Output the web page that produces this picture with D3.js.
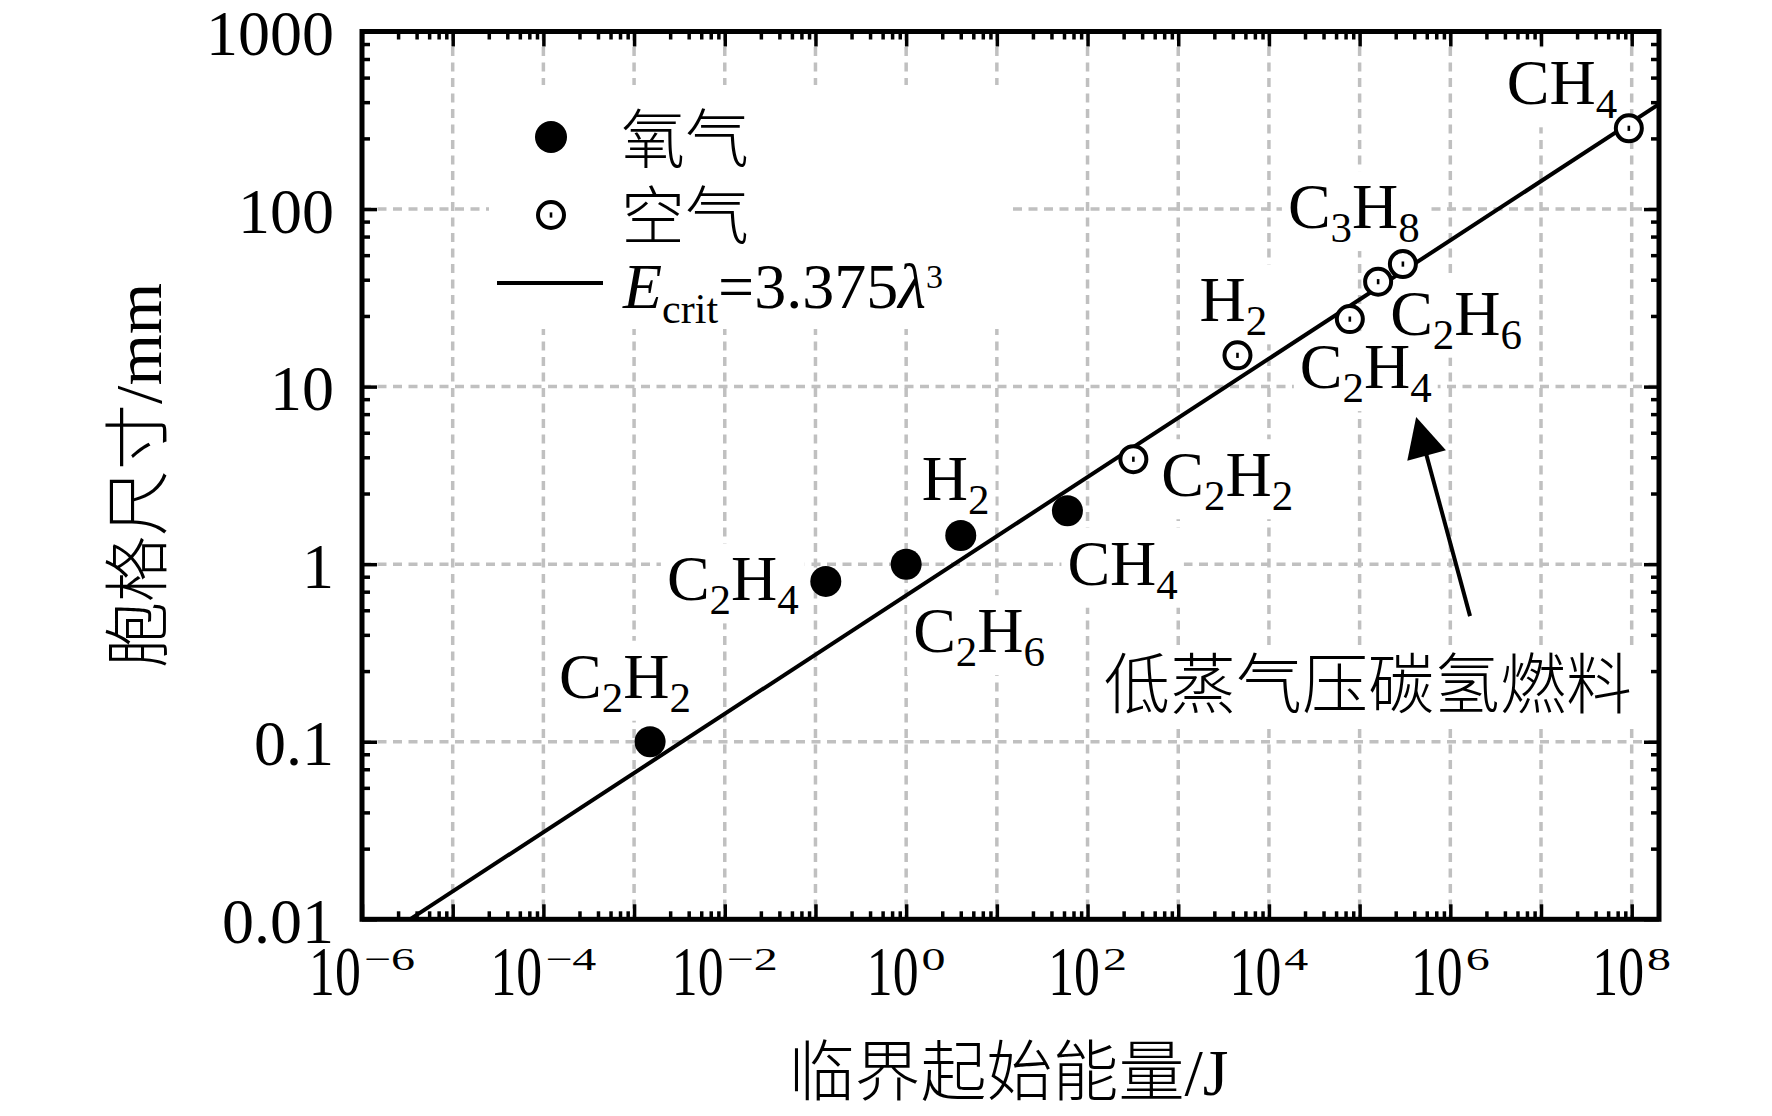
<!DOCTYPE html>
<html>
<head>
<meta charset="utf-8">
<script src="https://cdn.jsdelivr.net/npm/d3@7"></script>
<style>
html,body{margin:0;padding:0;background:#fff;}
svg{display:block;}
</style>
</head>
<body>
<svg id="chart" width="1772" height="1116"></svg>
<script>
// ---------------- DATA ----------------
const oxygenFuels  = ["C2H2", "C2H4", "C2H6", "H2", "CH4"];
const oxygenEnergy = [1.5e-3, 0.13, 1.0, 4.0, 60];          // J
const oxygenCell   = [0.1, 0.8, 1.0, 1.45, 2.0];            // mm

const airFuels  = ["C2H2", "H2", "C2H4", "C2H6", "C3H8", "CH4"];
const airEnergy = [320, 4500, 7.8e4, 1.6e5, 3.0e5, 9.3e7];  // J
const airCell   = [3.9, 15, 24, 39, 49, 285];               // mm

const fitCoeff = 3.375;           // E_crit = 3.375 * lambda^3
const fitLambdaMin = 0.01;

const xDomain = [1e-6, 2e8];
const yDomain = [0.01, 1000];
const xTickExponents = [-6, -4, -2, 0, 2, 4, 6, 8];
const xMajorExponents = [-6,-5,-4,-3,-2,-1,0,1,2,3,4,5,6,7,8];
const yTickValues = [0.01, 0.1, 1, 10, 100, 1000];
const yTickLabels = ["0.01", "0.1", "1", "10", "100", "1000"];
const minorMultipliers = [2.5, 4, 5.5, 7, 8.5];

const legendLabels = ["氧气", "空气"];
const fitLabel = {E: "E", sub: "crit", eq: "=3.375", lam: "λ", sup: "3"};
const annotationText = "低蒸气压碳氢燃料";
const arrowFrom = [1.65e6, 0.51];
const arrowTo   = [4.2e5, 6.75];
const xTitle = "临界起始能量/J";
const yTitle = "胞格尺寸/mm";

// ---------------- LAYOUT ----------------
const L = 362, R = 1659, T = 31.5, B = 919.3;
const SERIF = "'Liberation Serif','Times New Roman','Noto Sans CJK SC',serif";
const FS = 64, FS_SUB = 43, SUB_SHIFT = 14;
// label offsets (px) relative to their point: [dx, dy, anchor]
const oxygenLabelPos = [[-91,-44,"start"],[-27,19,"end"],[7,88,"start"],[-39,-36,"start"],[0,74,"start"]];
const airLabelPos    = [[28,37,"start"],[-38,-34,"start"],[-50,69,"start"],[12,53,"start"],[-115,-36,"start"],[-122,-24,"start"]];

const svg = d3.select("#chart");
svg.append("rect").attr("width",1772).attr("height",1116).attr("fill","#fff");

const x = d3.scaleLog().domain(xDomain).range([L, R]);
const y = d3.scaleLog().domain(yDomain).range([B, T]);

const gridLayer = svg.append("g");
const bgLayer = svg.append("g");
const lineLayer = svg.append("g");
const axisLayer = svg.append("g");
const pointLayer = svg.append("g");
const textLayer = svg.append("g");

svg.append("defs").append("clipPath").attr("id","plotClip")
  .append("rect").attr("x",L).attr("y",T).attr("width",R-L).attr("height",B-T);

// ---------------- GRID ----------------
const gridX = xMajorExponents.filter(e => e > -6).map(e => Math.pow(10, e));
const gridY = yTickValues.filter(v => v > 0.01 && v < 1000);
gridLayer.selectAll(".gx").data(gridX).join("line")
  .attr("x1", d => x(d)).attr("x2", d => x(d)).attr("y1", T).attr("y2", B)
  .attr("stroke","#c0c0c0").attr("stroke-width",3.5).attr("stroke-dasharray","9,6.5");
gridLayer.selectAll(".gy").data(gridY).join("line")
  .attr("y1", d => y(d)).attr("y2", d => y(d)).attr("x1", L).attr("x2", R)
  .attr("stroke","#c0c0c0").attr("stroke-width",3.5).attr("stroke-dasharray","9,6.5");

// legend background
bgLayer.append("rect").attr("x",489).attr("y",85).attr("width",518).attr("height",244).attr("fill","#fff");

// ---------------- FIT LINE ----------------
const fitLambda = [fitLambdaMin, Math.cbrt(xDomain[1] / fitCoeff)];
const fitPts = fitLambda.map(l => [fitCoeff * Math.pow(l, 3), l]);
lineLayer.append("path").datum(fitPts)
  .attr("clip-path","url(#plotClip)")
  .attr("d", d3.line().x(d => x(d[0])).y(d => y(d[1])))
  .attr("fill","none").attr("stroke","#000").attr("stroke-width",4);

// ---------------- AXES ----------------
const xMinor = [];
xMajorExponents.forEach(e => minorMultipliers.forEach(m => { const v = m*Math.pow(10,e); if (v < xDomain[1]) xMinor.push(v); }));
const yMinor = [];
[-2,-1,0,1,2].forEach(e => minorMultipliers.forEach(m => yMinor.push(m*Math.pow(10,e))));
const xMajor = xMajorExponents.map(e => Math.pow(10, e));

function styleAxis(g){
  g.select(".domain").remove();
  g.selectAll(".tick line").attr("stroke","#000").attr("stroke-width",3.5);
}
const MAJ = 15, MIN = 8;
axisLayer.append("g").attr("transform",`translate(0,${B})`)
  .call(d3.axisBottom(x).tickValues(xMajor).tickSize(-MAJ).tickSizeOuter(0).tickFormat(""))
  .call(styleAxis);
axisLayer.append("g").attr("transform",`translate(0,${B})`)
  .call(d3.axisBottom(x).tickValues(xMinor).tickSize(-MIN).tickSizeOuter(0).tickFormat(""))
  .call(styleAxis);
axisLayer.append("g").attr("transform",`translate(0,${T})`)
  .call(d3.axisTop(x).tickValues(xMajor).tickSize(-MAJ).tickSizeOuter(0).tickFormat(""))
  .call(styleAxis);
axisLayer.append("g").attr("transform",`translate(0,${T})`)
  .call(d3.axisTop(x).tickValues(xMinor).tickSize(-MIN).tickSizeOuter(0).tickFormat(""))
  .call(styleAxis);
const yAxisG = axisLayer.append("g").attr("transform",`translate(${L},0)`)
  .call(d3.axisLeft(y).tickValues(yTickValues).tickSize(-MAJ).tickSizeOuter(0).tickPadding(28)
        .tickFormat((d,i) => yTickLabels[i]))
  .call(styleAxis);
yAxisG.selectAll(".tick text").attr("font-family",SERIF).attr("font-size",FS).attr("fill","#000").attr("dy","0.36em");
axisLayer.append("g").attr("transform",`translate(${L},0)`)
  .call(d3.axisLeft(y).tickValues(yMinor).tickSize(-MIN).tickSizeOuter(0).tickFormat(""))
  .call(styleAxis);
axisLayer.append("g").attr("transform",`translate(${R},0)`)
  .call(d3.axisRight(y).tickValues(yTickValues).tickSize(-MAJ).tickSizeOuter(0).tickFormat(""))
  .call(styleAxis);
axisLayer.append("g").attr("transform",`translate(${R},0)`)
  .call(d3.axisRight(y).tickValues(yMinor).tickSize(-MIN).tickSizeOuter(0).tickFormat(""))
  .call(styleAxis);
axisLayer.append("rect").attr("x",L).attr("y",T).attr("width",R-L).attr("height",B-T)
  .attr("fill","none").attr("stroke","#000").attr("stroke-width",5);

// x tick labels 10^n  (base condensed, exponent widened, as in the reference)
const MAIN_SX = 0.75, SUP_SX = 1.5;
xTickExponents.forEach(e => {
  const tx = x(Math.pow(10, e));
  const gMain = textLayer.append("g");
  const main = gMain.append("text").text("10").attr("font-family",SERIF).attr("font-size",69);
  const mainW = main.node().getComputedTextLength() * MAIN_SX;
  const gSup = textLayer.append("g");
  const sup = gSup.append("text").text((e < 0 ? "\u2212" : "") + Math.abs(e))
    .attr("font-family",SERIF).attr("font-size",32);
  const supW = sup.node().getComputedTextLength() * SUP_SX;
  const gap = 3;
  const W = mainW + gap + supW;
  const x0 = tx - W/2;
  gMain.attr("transform",`translate(${x0},995) scale(${MAIN_SX},1)`);
  gSup.attr("transform",`translate(${x0 + mainW + gap},970) scale(${SUP_SX},1)`);
});

// axis titles
textLayer.append("text").text(xTitle).attr("x",(L+R)/2 - 2).attr("y",1095)
  .attr("text-anchor","middle").attr("font-family",SERIF).attr("font-size",66).attr("font-weight",300);
textLayer.append("text").text(yTitle)
  .attr("transform",`translate(161,${(T+B)/2}) rotate(-90)`)
  .attr("text-anchor","middle").attr("font-family",SERIF).attr("font-size",66).attr("font-weight",300);

// ---------------- POINTS ----------------
const oxygen = oxygenFuels.map((f,i) => ({f, E: oxygenEnergy[i], l: oxygenCell[i], pos: oxygenLabelPos[i]}));
const air = airFuels.map((f,i) => ({f, E: airEnergy[i], l: airCell[i], pos: airLabelPos[i]}));

function filledMarker(g, cx, cy, r){
  g.append("circle").attr("cx",cx).attr("cy",cy).attr("r",r).attr("fill","#000");
}
function openMarker(g, cx, cy){
  g.append("circle").attr("cx",cx).attr("cy",cy).attr("r",13).attr("fill","#fff").attr("stroke","#000").attr("stroke-width",4);
  g.append("rect").attr("x",cx-1.3).attr("y",cy-2.6).attr("width",2.6).attr("height",5.2).attr("fill","#000");
}
oxygen.forEach(d => filledMarker(pointLayer, x(d.E), y(d.l), 15.5));
air.forEach(d => openMarker(pointLayer, x(d.E), y(d.l)));

// formula labels with subscripts
function addFormula(t, str){
  let sub = false;
  str.match(/[A-Z][a-z]*|\d+/g).forEach(p => {
    const isNum = /\d/.test(p);
    const ts = t.append("tspan").text(p);
    if (isNum) { ts.attr("font-size",FS_SUB).attr("dy", sub ? 0 : SUB_SHIFT); sub = true; }
    else { ts.attr("dy", sub ? -SUB_SHIFT : 0); sub = false; }
  });
}
function addBg(t, padX, padY){
  const b = t.node().getBBox();
  bgLayer.append("rect").attr("x",b.x-padX).attr("y",b.y-padY)
    .attr("width",b.width+2*padX).attr("height",b.height+2*padY).attr("fill","#fff");
}
[...oxygen, ...air].forEach(d => {
  const t = textLayer.append("text")
    .attr("x", x(d.E) + d.pos[0]).attr("y", y(d.l) + d.pos[1])
    .attr("text-anchor", d.pos[2])
    .attr("font-family",SERIF).attr("font-size",FS).attr("fill","#000");
  addFormula(t, d.f);
  addBg(t, 6, 0);
});

// ---------------- LEGEND ----------------
const legX = 551;
filledMarker(pointLayer, legX, 137, 16);
openMarker(pointLayer, legX, 215);
textLayer.append("text").text(legendLabels[0]).attr("x",621).attr("y",162)
  .attr("font-family",SERIF).attr("font-size",64).attr("font-weight",300);
textLayer.append("text").text(legendLabels[1]).attr("x",621).attr("y",239)
  .attr("font-family",SERIF).attr("font-size",64).attr("font-weight",300);
pointLayer.append("line").attr("x1",497).attr("x2",603).attr("y1",283).attr("y2",283)
  .attr("stroke","#000").attr("stroke-width",4);
const ft = textLayer.append("text").attr("x",623).attr("y",308)
  .attr("font-family",SERIF).attr("font-size",FS);
ft.append("tspan").text(fitLabel.E).attr("font-style","italic");
ft.append("tspan").text(fitLabel.sub).attr("font-size",42).attr("dy",15);
ft.append("tspan").text(fitLabel.eq).attr("dy",-15);
ft.append("tspan").text(fitLabel.lam).attr("font-style","italic");
ft.append("tspan").text(fitLabel.sup).attr("font-size",34).attr("dy",-20);

// ---------------- ANNOTATION ----------------
const at = textLayer.append("text").text(annotationText).attr("x",1104).attr("y",708)
  .attr("font-family",SERIF).attr("font-size",66).attr("font-weight",300);
addBg(at, 10, 2);
const ax0 = x(arrowFrom[0]), ay0 = y(arrowFrom[1]), ax1 = x(arrowTo[0]), ay1 = y(arrowTo[1]);
const len = Math.hypot(ax1-ax0, ay1-ay0), ux = (ax1-ax0)/len, uy = (ay1-ay0)/len;
const headL = 40, headW = 20;
const bx = ax1 - ux*headL, by = ay1 - uy*headL;
pointLayer.append("line").attr("x1",ax0).attr("y1",ay0).attr("x2",bx+ux*4).attr("y2",by+uy*4)
  .attr("stroke","#000").attr("stroke-width",4);
pointLayer.append("polygon")
  .attr("points", [[ax1,ay1],[bx - uy*headW, by + ux*headW],[bx + uy*headW, by - ux*headW]].map(p => p.join(",")).join(" "))
  .attr("fill","#000");
</script>
</body>
</html>
